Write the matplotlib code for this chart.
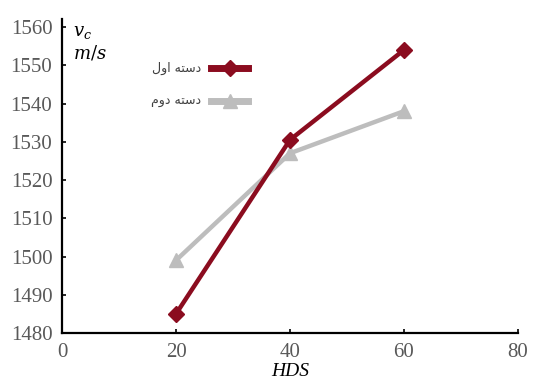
import matplotlib.pyplot as plt

# داده ها (خوانده شده از نمودار)
hds = [20, 40, 60]
group1 = [1485, 1530.5, 1554]
group2 = [1499, 1527, 1538]

# matplotlib 3.10 does no Arabic shaping, so give glyph forms in visual order
label1 = "\uFEDD\uFEED\uFE8D \uFEEA\uFE98\uFEB3\uFEA9"  # دسته اول
label2 = "\uFEE1\uFEED\uFEA9 \uFEEA\uFE98\uFEB3\uFEA9"  # دسته دوم

xticks = [0, 20, 40, 60, 80]
yticks = [1480, 1490, 1500, 1510, 1520, 1530, 1540, 1550, 1560]

red = "#8b0c1f"
gray = "#bdbdbd"
tick_color = "#595959"

plt.rcParams["mathtext.fontset"] = "dejavuserif"

fig = plt.figure(figsize=(5.35, 3.92), dpi=100)
ax = fig.add_axes([0.116, 0.1505, 0.852, 0.80])

ax.plot(hds, group2, color=gray, lw=3.2, marker="^", ms=10, label=label2, zorder=2)
ax.plot(hds, group1, color=red, lw=3.2, marker="D", ms=8, label=label1, zorder=3)

ax.set_xlim(0, 80)
ax.set_ylim(1480, 1562)
ax.set_xticks(xticks)
ax.set_yticks(yticks)

for s in ["top", "right"]:
    ax.spines[s].set_visible(False)
for s in ["left", "bottom"]:
    ax.spines[s].set_linewidth(1.6)
    ax.spines[s].set_color("black")

ax.tick_params(direction="in", length=3, width=1.2, colors="black",
               labelcolor=tick_color, labelsize=15, pad=7)
for lab in ax.get_xticklabels() + ax.get_yticklabels():
    lab.set_family("Liberation Serif")

ax.set_xlabel("HDS", fontsize=14, style="italic", family="Liberation Serif",
              labelpad=1)
ax.text(0.025, 0.99, "$v_c$\n$m/s$", transform=ax.transAxes, fontsize=13,
        va="top", ha="left")

handles, labels = ax.get_legend_handles_labels()
leg = ax.legend(handles[::-1], labels[::-1], loc="upper left",
                bbox_to_anchor=(0.17, 0.90), frameon=False, markerfirst=False,
                handlelength=3.0, labelspacing=1.6,
                prop={"family": "DejaVu Sans", "size": 9})
for t in leg.get_texts():
    t.set_color("#404040")
for h in leg.legend_handles:
    h.set_linewidth(5)

fig.savefig("out.png", dpi=100)
